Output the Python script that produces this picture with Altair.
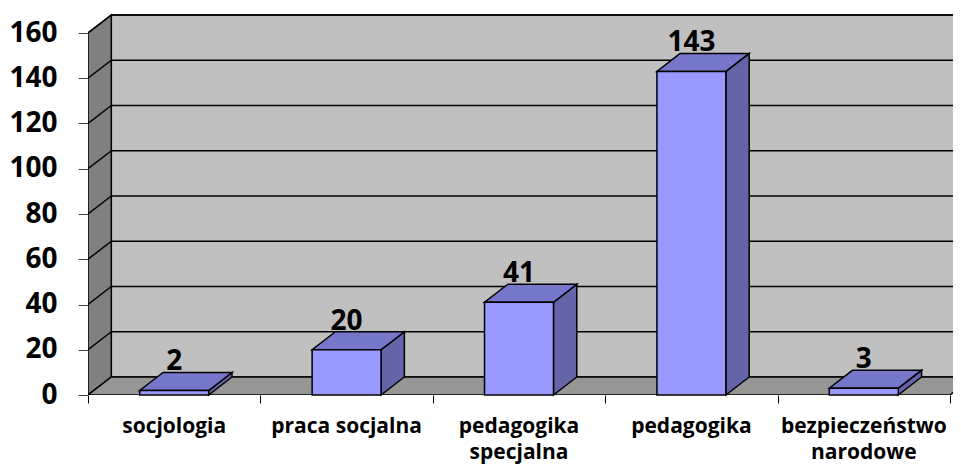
import altair as alt
import pandas as pd

# ---- data ----
categories = ["socjologia", "praca socjalna", "pedagogika\nspecjalna", "pedagogika", "bezpieczeństwo\nnarodowe"]
values = [2, 20, 41, 143, 3]
y_ticks = [0, 20, 40, 60, 80, 100, 120, 140, 160]

# ---- geometry (scale constants) ----
N = len(categories)
PX_X = 172.4           # px per category
PX_Y = 2.2625          # px per unit
W = 865
H = 385
XMAX = W / PX_X
YMAX = H / PX_Y
DX = 23.3 / PX_X       # 3D depth offset (x, data units)
DY = 18.0 / PX_Y       # 3D depth offset (y, data units)
YTOP = y_ticks[-1]
HALF = 0.2             # half bar width (category units)
FONT = "Open Sans"

xs = alt.Scale(domain=[0, XMAX], nice=False, zero=False)
ys = alt.Scale(domain=[0, YMAX], nice=False, zero=False)
x_axis = alt.Axis(values=list(range(N + 1)), labels=False, tickSize=8, tickColor="black",
                  tickWidth=1, domain=False, grid=False)
y_axis = alt.Axis(values=y_ticks, tickSize=10, tickColor="#404040", tickWidth=1,
                  labelFont=FONT, labelFontWeight="bold", labelFontSize=28, labelColor="black",
                  labelPadding=21, domain=False, grid=False)


def X(f="x"):
    return alt.X(f"{f}:Q", scale=xs, axis=x_axis, title="")


def Y(f="y"):
    return alt.Y(f"{f}:Q", scale=ys, axis=y_axis, title="")


# back wall
back_df = pd.DataFrame([{"x": DX, "x2": XMAX + 1, "y": DY, "y2": YTOP + DY}])
back = alt.Chart(back_df).mark_rect(fill="#C0C0C0", stroke="black", strokeWidth=1.5, clip=True).encode(
    x=X(), x2="x2:Q", y=Y(), y2="y2:Q")

# left side wall
side_df = pd.DataFrame([{"x": 0, "y": 0, "y2": YTOP}, {"x": DX, "y": DY, "y2": YTOP + DY}])
side = alt.Chart(side_df).mark_area(orient="vertical", fill="#808080", stroke="black",
                                    strokeWidth=1.5, clip=True).encode(x=X(), y=Y(), y2="y2:Q")

# floor
floor_df = pd.DataFrame([{"y": 0, "x": 0, "x2": N}, {"y": DY, "x": DX, "x2": N + DX}])
floor = alt.Chart(floor_df).mark_area(orient="horizontal", fill="#969696", stroke="black",
                                      strokeWidth=1.5, clip=True).encode(y=Y(), x=X(), x2="x2:Q")

# gridlines on back wall and side wall
grid_df = pd.DataFrame({"g": y_ticks[1:]})
grid_df["yb"] = grid_df["g"] + DY
grid_df["x0"] = 0.0
grid_df["xb"] = DX
grid_df["xe"] = XMAX + 1
grid_back = alt.Chart(grid_df).mark_rule(color="black", strokeWidth=1.5, clip=True).encode(
    x=X("xb"), x2="xe:Q", y=Y("yb"))
grid_side = alt.Chart(grid_df).mark_rule(color="black", strokeWidth=1.5, clip=True).encode(
    x=X("x0"), x2="xb:Q", y=Y("g"), y2="yb:Q")

# bars
front_rows, top_rows, side_rows, lab_rows = [], [], [], []
for i, (c, v) in enumerate(zip(categories, values)):
    x0 = i + 0.5 - HALF
    x1 = i + 0.5 + HALF
    front_rows.append({"bar": i, "x": x0, "x2": x1, "y": 0, "y2": v})
    top_rows += [{"bar": i, "y": v, "x": x0, "x2": x1},
                 {"bar": i, "y": v + DY, "x": x0 + DX, "x2": x1 + DX}]
    side_rows += [{"bar": i, "x": x1, "y": 0, "y2": v},
                  {"bar": i, "x": x1 + DX, "y": DY, "y2": v + DY}]
    lab_rows.append({"x": i + 0.5, "y": v + DY, "val": str(v), "cat": c, "y0": 0})

bars_front = alt.Chart(pd.DataFrame(front_rows)).mark_rect(
    fill="#9999FF", stroke="black", strokeWidth=1.5).encode(x=X(), x2="x2:Q", y=Y(), y2="y2:Q")
bars_top = alt.Chart(pd.DataFrame(top_rows)).mark_area(
    orient="horizontal", fill="#7676CA", stroke="black", strokeWidth=1.5).encode(
    y=Y(), x=X(), x2="x2:Q", detail="bar:N")
bars_side = alt.Chart(pd.DataFrame(side_rows)).mark_area(
    orient="vertical", fill="#6464A8", stroke="black", strokeWidth=1.5).encode(
    x=X(), y=Y(), y2="y2:Q", detail="bar:N")

lab_df = pd.DataFrame(lab_rows)
value_labels = alt.Chart(lab_df).mark_text(
    font=FONT, fontWeight="bold", fontSize=28, color="black", baseline="alphabetic", dy=-2).encode(
    x=X(), y=Y(), text="val:N")
cat_labels = alt.Chart(lab_df).mark_text(
    font=FONT, fontWeight="bold", fontSize=21, color="black", baseline="alphabetic", dy=38,
    lineBreak="\n", lineHeight=26).encode(x=X(), y=Y("y0"), text="cat:N")

chart = alt.layer(back, side, floor, grid_back, grid_side, bars_side, bars_top, bars_front,
                  value_labels, cat_labels).properties(
    width=W, height=H,
    autosize=alt.AutoSizeParams(type="none"),
    padding={"left": 80, "top": 2, "right": 0, "bottom": 70},
    background="white",
).configure_view(stroke=None)

chart.save("out.html", embed_options={"renderer": "svg", "actions": False})
